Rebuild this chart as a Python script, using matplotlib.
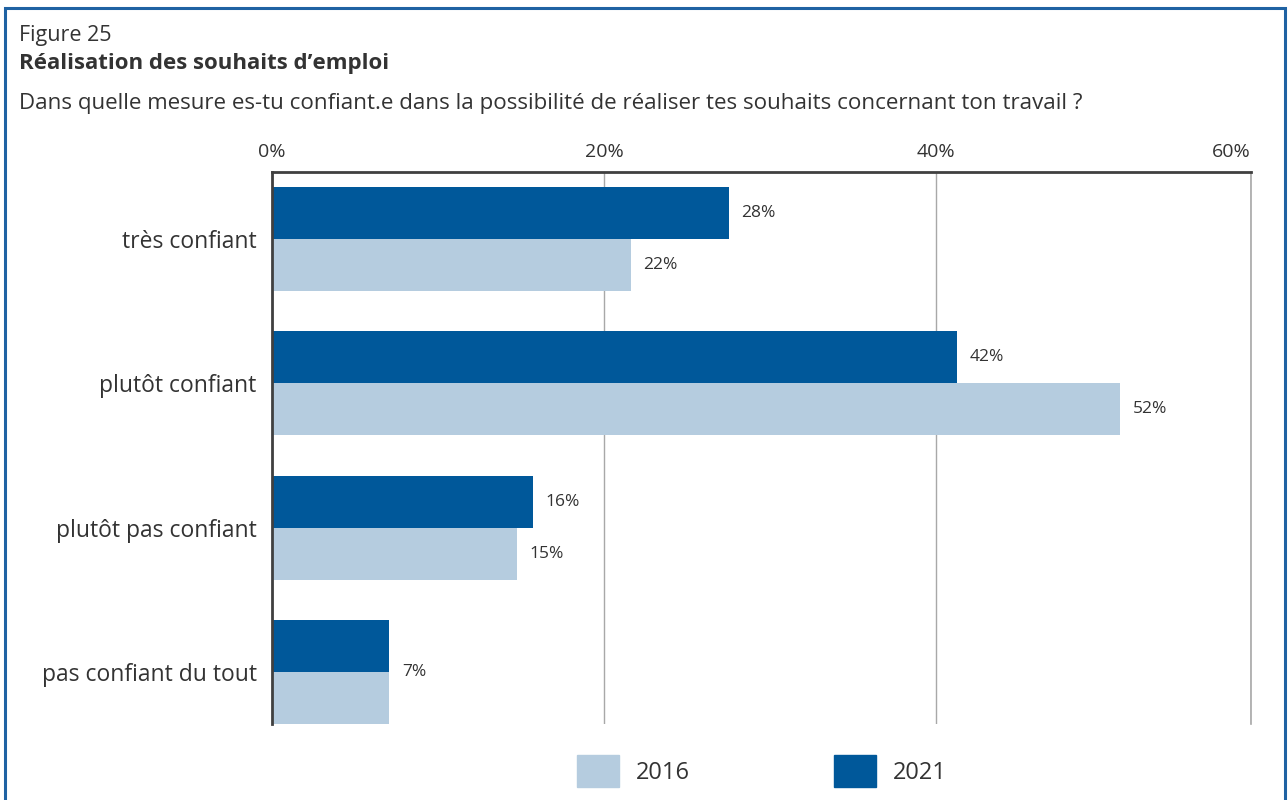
import numpy as np
import matplotlib
matplotlib.use('Agg')
import matplotlib.pyplot as plt
from matplotlib.patches import Rectangle

plt.rcParams['font.family'] = ['Open Sans', 'DejaVu Sans']

categories = ['très confiant', 'plutôt confiant', 'plutôt pas confiant', 'pas confiant du tout']
values_2021 = [28, 42, 16, 7.2]
values_2016 = [22, 52, 15, 7.2]
labels_2021 = ['28%', '42%', '16%', '']
labels_2016 = ['22%', '52%', '15%', '']
shared_label = ['', '', '', '7%']
xticks = [0, 20, 40]
tick_labels = ['0%', '20%', '40%', '60%']

dark = '#00589A'
light = '#B5CCDF'
text_col = '#333333'
frame_col = '#1F62A3'

fig = plt.figure(figsize=(12.88, 8), dpi=100)

# blue frame around the whole figure (bottom edge cut off like in the report)
fig.patches.append(Rectangle((0.004, -0.02), 0.994, 1.01, transform=fig.transFigure,
                             fill=False, edgecolor=frame_col, linewidth=2.2))

fig.text(0.0148, 0.956, 'Figure 25', fontsize=15.5, color=text_col, va='center')
fig.text(0.0148, 0.920, 'Réalisation des souhaits d’emploi', fontsize=16, fontweight='bold',
         color=text_col, va='center')
fig.text(0.0148, 0.871, 'Dans quelle mesure es-tu confiant.e dans la possibilité de réaliser tes souhaits concernant ton travail ?',
         fontsize=16.1, color=text_col, va='center')

rect = [272 / 1288, 1 - 724 / 800, (1251 - 272) / 1288, (724 - 172) / 800]

# background axes: percentage scale with grid (the report's grid is slightly
# wider than the bar scale, the 60% line falls just outside the plot area)
gax = fig.add_axes(rect)
ax = fig.add_axes(rect, sharey=gax)
ax.set_zorder(2)
ax.patch.set_visible(False)

y = np.arange(len(categories))
h = 0.361
b21 = ax.barh(y - h / 2, values_2021, height=h, color=dark, label='2021')
b16 = ax.barh(y + h / 2, values_2016, height=h, color=light, label='2016')

ax.bar_label(b21, labels=labels_2021, padding=9, fontsize=12.5, color=text_col)
ax.bar_label(b16, labels=labels_2016, padding=9, fontsize=12.5, color=text_col)
for i, lab in enumerate(shared_label):
    if lab:
        ax.annotate(lab, (max(values_2021[i], values_2016[i]), y[i]), xytext=(9, 0),
                    textcoords='offset points', va='center', fontsize=12.5, color=text_col)

ax.set_xlim(0, 60)
ax.set_xticks([])
for s in ['top', 'right', 'bottom']:
    ax.spines[s].set_visible(False)
ax.spines['left'].set_color('#404040')
ax.spines['left'].set_linewidth(2)

gmax = 60 * 979 / 996
gax.set_xlim(0, gmax)
gax.set_xticks(xticks + [gmax])
gax.set_xticklabels(tick_labels)
gax.xaxis.tick_top()
gax.xaxis.get_major_ticks()[-1].label2.set_horizontalalignment('right')
gax.tick_params(axis='x', length=0, pad=8, labelsize=14, labelcolor=text_col)
gax.grid(axis='x', color='#A8A8A8', linewidth=1)

gax.set_ylim(3 + h, -0.465)
gax.set_yticks(y)
gax.set_yticklabels(categories)
gax.tick_params(axis='y', length=0, pad=11, labelsize=16.5, labelcolor=text_col)
ax.tick_params(axis='y', length=0, labelleft=False)

for s in ['bottom', 'left']:
    gax.spines[s].set_visible(False)
gax.spines['right'].set_color('#A8A8A8')
gax.spines['right'].set_linewidth(1.2)
gax.spines['top'].set_color('#404040')
gax.spines['top'].set_linewidth(2)

# legend drawn by hand at the bottom
fig.patches.append(Rectangle((577 / 1288, 1 - 787 / 800), 42 / 1288, 32 / 800,
                             transform=fig.transFigure, color=light))
fig.text(636 / 1288, 1 - 773 / 800, '2016', fontsize=17, color=text_col, va='center')
fig.patches.append(Rectangle((834 / 1288, 1 - 787 / 800), 42 / 1288, 32 / 800,
                             transform=fig.transFigure, color=dark))
fig.text(893 / 1288, 1 - 773 / 800, '2021', fontsize=17, color=text_col, va='center')

fig.savefig('out.png', dpi=100)
